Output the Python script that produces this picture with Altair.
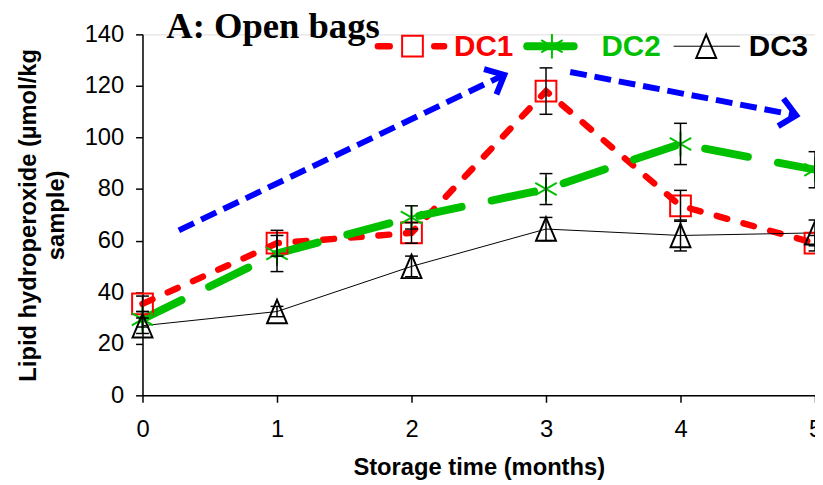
import altair as alt
import pandas as pd

# ---- data ----
months = [0, 1, 2, 3, 4, 5]
dc1 = [35.5, 59, 63, 118, 73.5, 59]
dc2 = [29.5, 55, 69, 80, 97.5, 87.5]
dc3 = [27, 32.5, 50, 64.5, 62, 63]
err1 = [3, 5, 4, 9, 6, 3]
err2 = [3, 7, 4.5, 6, 8, 7]
err3 = [3, 2, 4, 4.5, 6, 5]

# blue trend arrows (data units): start x, start y, end x, end y
arrow_x = [0.27, 3.18]
arrow_y = [64, 125.4]
arrow_x2 = [2.69, 4.86]
arrow_y2 = [124.3, 108.6]
arrow_angle = [334, 11]

y_ticks = [0, 20, 40, 60, 80, 100, 120, 140]
x_ticks = [0, 1, 2, 3, 4, 5]

RED = "#FF0000"
GREEN = "#00C000"
BLACK = "#000000"
BLUE = "#0000FF"
SANS = "Liberation Sans"

ASTERISK = "M0,-1L0,1M-0.87,-0.5L0.87,0.5M-0.87,0.5L0.87,-0.5"
TRIANGLE = "M0,-1L0.85,1L-0.85,1Z"
CHEVRON = "M-1,-0.9L0,0L-1,0.9"

xs = alt.Scale(domain=[0, 5], nice=False)
ys = alt.Scale(domain=[0, 140], nice=False)

x_axis = alt.Axis(values=x_ticks, format="d", title="Storage time (months)", grid=False,
                  labelFontSize=24, labelFont=SANS, labelColor=BLACK,
                  tickSize=7, tickColor=BLACK, tickWidth=1.5,
                  domainColor=BLACK, domainWidth=1.5, labelPadding=16,
                  titleFontSize=24, titleFont=SANS, titleFontWeight="bold",
                  titleColor=BLACK, titlePadding=14, labelFlush=False)
y_axis = alt.Axis(values=y_ticks, format="d", title=["Lipid hydroperoxide (µmol/kg", "sample)"],
                  grid=False, labelFontSize=24, labelFont=SANS, labelColor=BLACK,
                  tickSize=7, tickColor=BLACK, tickWidth=1.5,
                  domainColor=BLACK, domainWidth=1.5, labelPadding=12,
                  titleFontSize=24, titleFont=SANS, titleFontWeight="bold",
                  titleColor=BLACK, titlePadding=16, titleLineHeight=28,
                  labelFlush=False)

series = [
    ("DC1", dc1, err1, RED, dict(strokeWidth=6.5, strokeDash=[11, 17], strokeCap="round"),
     dict(shape="square", size=440, strokeWidth=2)),
    ("DC2", dc2, err2, GREEN, dict(strokeWidth=8, strokeDash=[44, 31], strokeCap="round"),
     dict(shape=ASTERISK, size=620, strokeWidth=2)),
    ("DC3", dc3, err3, BLACK, dict(strokeWidth=1),
     dict(shape=TRIANGLE, size=560, strokeWidth=2)),
]

layers = []
# arrows
adf = pd.DataFrame({"x": arrow_x, "y": arrow_y, "x2": arrow_x2, "y2": arrow_y2, "ang": arrow_angle})
layers.append(alt.Chart(adf).mark_rule(color=BLUE, strokeWidth=6, strokeDash=[17, 8]).encode(
    x=alt.X("x:Q", scale=xs, axis=x_axis), y=alt.Y("y:Q", scale=ys, axis=y_axis),
    x2="x2:Q", y2="y2:Q"))
layers.append(alt.Chart(adf).mark_point(shape=CHEVRON, size=1000, filled=False, color=BLUE,
                                        strokeWidth=6, opacity=1, strokeJoin="miter").encode(
    x=alt.X("x2:Q", scale=xs), y=alt.Y("y2:Q", scale=ys), angle=alt.Angle("ang:Q", scale=None)))

for name, vals, errs, col, lstyle, mstyle in series:
    df = pd.DataFrame({"m": months, "v": vals})
    layers.append(alt.Chart(df).mark_line(color=col, **lstyle).encode(
        x=alt.X("m:Q", scale=xs), y=alt.Y("v:Q", scale=ys)))

for name, vals, errs, col, lstyle, mstyle in series:
    df = pd.DataFrame({"m": months, "v": vals})
    layers.append(alt.Chart(df).mark_point(filled=False, color=col, opacity=1, **mstyle).encode(
        x=alt.X("m:Q", scale=xs), y=alt.Y("v:Q", scale=ys)))

for name, vals, errs, col, lstyle, mstyle in series:
    df = pd.DataFrame({"m": months,
                       "lo": [v - e for v, e in zip(vals, errs)],
                       "hi": [v + e for v, e in zip(vals, errs)]})
    layers.append(alt.Chart(df).mark_rule(color=BLACK, strokeWidth=1.5).encode(
        x=alt.X("m:Q", scale=xs), y=alt.Y("lo:Q", scale=ys), y2="hi:Q"))
    for end in ["lo", "hi"]:
        layers.append(alt.Chart(df).mark_tick(color=BLACK, orient="horizontal", size=13,
                                              thickness=1.5, opacity=1).encode(
            x=alt.X("m:Q", scale=xs), y=alt.Y(f"{end}:Q", scale=ys)))

# ---- title and manual legend (pixel positions relative to plot area) ----
one = pd.DataFrame({"a": [0]})
layers.append(alt.Chart(one).mark_text(text="A: Open bags", font="Liberation Serif", fontSize=37,
                                       fontWeight="bold", align="left", baseline="middle",
                                       color=BLACK).encode(x=alt.value(24), y=alt.value(-7)))
leg_y = 12
legend_items = [
    ("DC1", RED, 238, 305, 273, 315, dict(strokeWidth=6.5, strokeDash=[12, 45], strokeCap="round"),
     dict(shape="square", size=440, strokeWidth=2)),
    ("DC2", GREEN, 389, 436, 414, 464, dict(strokeWidth=8, strokeCap="round"),
     dict(shape=ASTERISK, size=620, strokeWidth=2)),
    ("DC3", BLACK, 537, 604, 570, 613, dict(strokeWidth=1),
     dict(shape=TRIANGLE, size=560, strokeWidth=2)),
]
for label, col, lx1, lx2, mx, tx, lstyle, mstyle in legend_items:
    layers.append(alt.Chart(one).mark_rule(color=col, **lstyle).encode(
        x=alt.value(lx1), x2=alt.value(lx2), y=alt.value(leg_y)))
    layers.append(alt.Chart(one).mark_point(filled=False, color=col, opacity=1, **mstyle).encode(
        x=alt.value(mx), y=alt.value(leg_y)))
    layers.append(alt.Chart(one).mark_text(text=label, font=SANS, fontSize=30, fontWeight="bold",
                                           align="left", baseline="middle", color=col).encode(
        x=alt.value(tx), y=alt.value(leg_y + 1)))

chart = alt.layer(*layers).properties(
    width=680, height=365,
    autosize=alt.AutoSizeParams(type="none"),
    padding={"left": 136, "top": 24, "right": 0, "bottom": 88},
).configure_view(stroke=None).configure(background="white")

chart.save("out.html", embed_options={"renderer": "svg", "actions": False})
